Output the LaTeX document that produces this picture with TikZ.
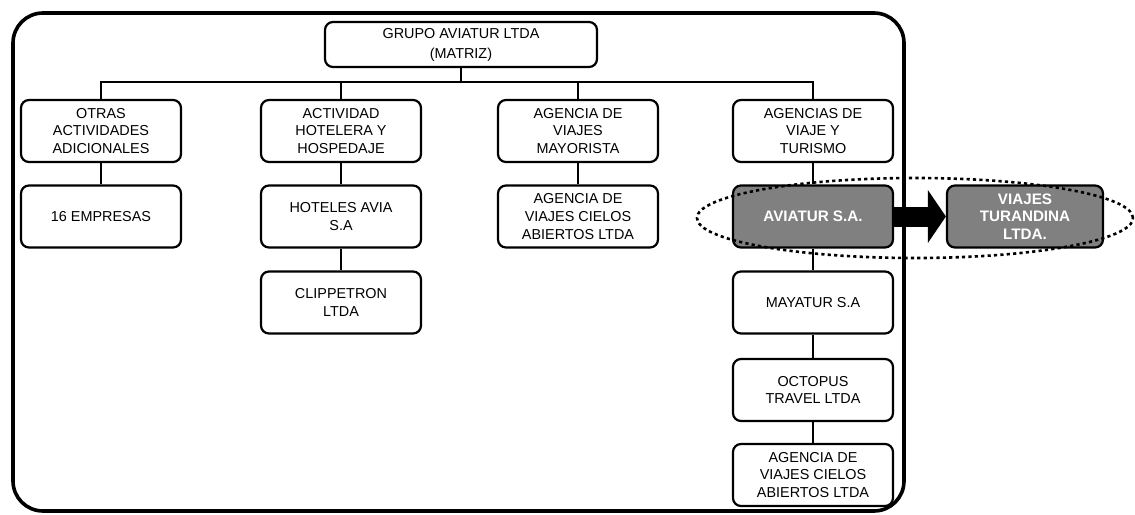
\documentclass[tikz,border=0pt]{standalone}
\usepackage{fontspec}
\setmainfont{Liberation Sans}
\usetikzlibrary{arrows.meta}

\begin{document}
\begin{tikzpicture}[x=0.5pt,y=-0.5pt,
		caja/.style={draw,line width=1.1pt,rounded corners=4pt,align=center,
			minimum width=80pt,minimum height=31pt,inner sep=1pt,
			font=\fontsize{7.2}{8.8}\selectfont},
		cajaosc/.style={caja,fill=black!50,text=white,
			font=\fontsize{7.6}{8.8}\selectfont\bfseries},
		enlace/.style={line width=1.1pt}]
		
		\useasboundingbox (0,0) rectangle (1135,514);
		
		% marco exterior
		\draw[line width=1.8pt,rounded corners=15pt] (13,13) rectangle (904,511);
		
		
		\node[caja,minimum width=136pt,minimum height=22.5pt,font=\fontsize{7.2}{10}\selectfont] (matriz) at (461,44.5) {GRUPO AVIATUR LTDA\\(MATRIZ)};
		
		
		\node[caja] (otras) at (101,131) {OTRAS\\ACTIVIDADES\\ADICIONALES};
		\node[caja] (hotel) at (341,131) {ACTIVIDAD\\HOTELERA Y\\HOSPEDAJE};
		\node[caja] (mayor) at (578,131) {AGENCIA DE\\VIAJES\\MAYORISTA};
		\node[caja] (turismo) at (813,131) {AGENCIAS DE\\VIAJE Y\\TURISMO};
		
		
		\node[caja] (empresas) at (101,216.5) {16 EMPRESAS};
		\node[caja] (avia) at (341,216.5) {HOTELES AVIA\\S.A};
		\node[caja] (clippetron) at (341,302.5) {CLIPPETRON\\LTDA};
		\node[caja] (cielosA) at (578,216.5) {AGENCIA DE\\VIAJES CIELOS\\ABIERTOS LTDA};
		
		
		\node[cajaosc] (aviatur) at (813,216.5) {AVIATUR S.A.};
		\node[caja] (mayatur) at (813,302.5) {MAYATUR S.A};
		\node[caja] (octopus) at (813,390) {OCTOPUS\\TRAVEL LTDA};
		\node[caja] (cielosB) at (813,475) {AGENCIA DE\\VIAJES CIELOS\\ABIERTOS LTDA};
		
		\node[cajaosc,minimum width=78pt] (turandina) at (1025,216.5) {VIAJES\\TURANDINA\\LTDA.};
		
		
		% conectores
		\coordinate (bus) at (461,82);
		\draw[enlace] (matriz) -- (bus);
		\draw[enlace] (otras.north) |- (turismo.north |- bus) -- (turismo.north);
		\draw[enlace] (hotel.north) -- (hotel.north |- bus);
		\draw[enlace] (mayor.north) -- (mayor.north |- bus);
		
		\draw[enlace] (otras) -- (empresas);
		\draw[enlace] (hotel) -- (avia) -- (clippetron);
		\draw[enlace] (mayor) -- (cielosA);
		\draw[enlace] (turismo) -- (aviatur) -- (mayatur) -- (octopus) -- (cielosB);
		
		
		\draw[line width=10pt,-{Triangle[length=9pt,width=26pt]}] (aviatur.east) -- (turandina.west);
		
		
		\draw[line width=1.3pt,dash pattern=on 1.6pt off 1.6pt] (915,218) ellipse [x radius=109pt,y radius=20pt];
		
		
	\end{tikzpicture}
\end{document}
